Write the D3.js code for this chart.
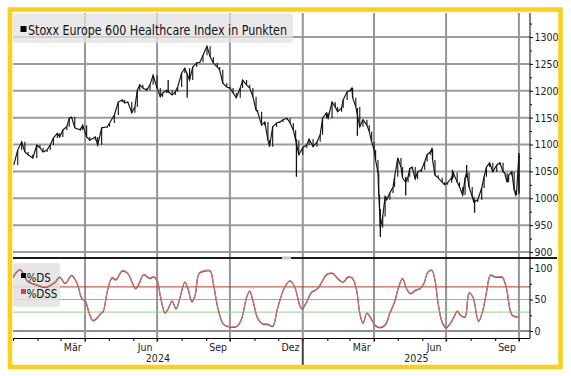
<!DOCTYPE html>
<html>
<head>
<meta charset="utf-8">
<script src="https://cdn.jsdelivr.net/npm/d3@7"></script>
<style>
  body { margin: 0; background: #fff; }
  svg { display: block; }
  text { font-family: "Liberation Sans Narrow", "DejaVu Sans Condensed", "Liberation Sans", sans-serif; }
</style>
</head>
<body>
<div class="chart"></div>
<script>
// Stoxx Europe 600 Healthcare, daily closes (approx.)
var priceDates = [
  "2024-01-02","2024-01-07","2024-01-12","2024-01-16","2024-01-20","2024-01-26","2024-01-31","2024-02-04","2024-02-08","2024-02-13",
  "2024-02-17","2024-02-21","2024-02-26","2024-02-29","2024-03-04","2024-03-09","2024-03-12","2024-03-15","2024-03-19","2024-03-26",
  "2024-03-29","2024-04-03","2024-04-07","2024-04-14","2024-04-17","2024-04-22","2024-04-29","2024-05-02","2024-05-08","2024-05-13",
  "2024-05-18","2024-05-21","2024-05-25","2024-05-30","2024-06-03","2024-06-06","2024-06-09","2024-06-13","2024-06-18","2024-06-22",
  "2024-06-26","2024-07-01","2024-07-05","2024-07-08","2024-07-13","2024-07-20","2024-07-24","2024-07-27","2024-08-01","2024-08-05",
  "2024-08-11","2024-08-15","2024-08-20","2024-08-24","2024-08-28","2024-09-02","2024-09-06","2024-09-10","2024-09-15","2024-09-18",
  "2024-09-22","2024-09-27","2024-10-01","2024-10-05","2024-10-09","2024-10-14","2024-10-17","2024-10-22","2024-10-26","2024-10-30",
  "2024-11-03","2024-11-05","2024-11-10","2024-11-14","2024-11-18","2024-11-20","2024-11-24","2024-11-29","2024-12-03","2024-12-07",
  "2024-12-12","2024-12-16","2024-12-20","2024-12-23","2024-12-27","2025-01-01","2025-01-06","2025-01-09","2025-01-14","2025-01-19",
  "2025-01-23","2025-01-26","2025-01-31","2025-02-02","2025-02-07","2025-02-11","2025-02-14","2025-02-19","2025-02-21","2025-02-26",
  "2025-03-02","2025-03-04","2025-03-05","2025-03-09","2025-03-14","2025-03-18","2025-03-23","2025-03-26","2025-03-29","2025-04-01",
  "2025-04-03","2025-04-06","2025-04-07","2025-04-08","2025-04-09","2025-04-12","2025-04-15","2025-04-17","2025-04-21","2025-04-25",
  "2025-04-27","2025-05-01","2025-05-05","2025-05-07","2025-05-11","2025-05-14","2025-05-16","2025-05-19","2025-05-23","2025-05-26",
  "2025-05-31","2025-06-04","2025-06-07","2025-06-11","2025-06-13","2025-06-14","2025-06-17","2025-06-21","2025-06-26","2025-06-29",
  "2025-07-03","2025-07-08","2025-07-10","2025-07-15","2025-07-18","2025-07-22","2025-07-25","2025-07-27","2025-07-30","2025-08-03",
  "2025-08-05","2025-08-10","2025-08-15","2025-08-18","2025-08-21","2025-08-25","2025-08-29","2025-09-03","2025-09-07","2025-09-11",
  "2025-09-13","2025-09-16","2025-09-18","2025-09-22","2025-09-25","2025-09-27","2025-09-28","2025-10-01"
];
var priceClose = [
  1062,1090,1105,1086,1081,1075,1099,1094,1086,1090,
  1099,1112,1121,1114,1127,1133,1149,1151,1131,1127,
  1136,1114,1108,1114,1099,1131,1133,1140,1155,1179,
  1183,1177,1179,1159,1170,1201,1211,1205,1201,1211,
  1229,1205,1189,1196,1201,1192,1198,1207,1233,1242,
  1220,1244,1252,1253,1266,1283,1263,1252,1244,1239,
  1214,1207,1205,1196,1187,1205,1220,1211,1205,1189,
  1164,1161,1136,1142,1108,1096,1133,1140,1142,1146,
  1149,1140,1127,1108,1081,1094,1099,1110,1096,1105,
  1118,1149,1159,1149,1179,1170,1161,1168,1183,1198,
  1201,1205,1187,1170,1133,1146,1136,1124,1105,1090,
  1071,1047,1006,978,945,966,1003,997,1010,1021,
  1040,1075,1058,1038,1030,1040,1055,1058,1036,1049,
  1053,1068,1081,1086,1092,1071,1043,1038,1030,1025,
  1029,1038,1048,1030,1021,1006,1038,1048,1021,1003,
  993,997,1019,1040,1058,1066,1049,1062,1066,1049,
  1047,1030,1043,1049,1015,1006,1012,1080
];
// long intraday wicks
var spikeDates = ["2024-07-15","2024-08-08","2024-12-24","2025-03-11","2025-04-09","2025-05-11","2025-07-09","2025-07-27","2025-08-06","2025-10-01"];
var spikeLow   = [1196, 1187, 1040, 1116, 928, 1005, 1035, 1040, 973, 1008];
var spikeHigh  = [1220, 1232, 1110, 1168, 980, 1040, 1053, 1062, 998, 1084];

// Stochastik %DS / %DSS
var stochDates = [
  "2024-01-01","2024-01-10","2024-01-20","2024-01-30","2024-02-12","2024-02-23","2024-02-29","2024-03-07","2024-03-15","2024-03-22",
  "2024-03-28","2024-04-01","2024-04-06","2024-04-11","2024-04-16","2024-04-20","2024-04-24","2024-04-29","2024-05-05","2024-05-10",
  "2024-05-18","2024-05-25","2024-06-04","2024-06-09","2024-06-14","2024-06-22","2024-06-26","2024-07-01","2024-07-05","2024-07-11",
  "2024-07-15","2024-07-20","2024-07-25","2024-07-30","2024-08-05","2024-08-09","2024-08-14","2024-08-18","2024-08-23","2024-08-30",
  "2024-09-06","2024-09-10","2024-09-16","2024-09-23","2024-10-01","2024-10-10","2024-10-16","2024-10-22","2024-10-26","2024-10-30",
  "2024-11-05","2024-11-11","2024-11-18","2024-11-24","2024-11-30","2024-12-09","2024-12-16","2024-12-22","2024-12-28","2024-12-31",
  "2025-01-06","2025-01-12","2025-01-19","2025-01-25","2025-01-31","2025-02-08","2025-02-14","2025-02-21","2025-02-27","2025-03-05",
  "2025-03-10","2025-03-14","2025-03-18","2025-03-23","2025-03-28","2025-04-02","2025-04-08","2025-04-15","2025-04-21","2025-04-27",
  "2025-05-02","2025-05-07","2025-05-12","2025-05-17","2025-05-23","2025-05-29","2025-06-03","2025-06-08","2025-06-13","2025-06-17",
  "2025-06-21","2025-06-26","2025-07-01","2025-07-06","2025-07-11","2025-07-15","2025-07-20","2025-07-25","2025-07-30","2025-08-04",
  "2025-08-09","2025-08-11","2025-08-16","2025-08-21","2025-08-26","2025-08-31","2025-09-04","2025-09-10","2025-09-15","2025-09-20",
  "2025-09-23","2025-09-28","2025-10-01"
];
var dsValues = [
  86,98,79,74,70,78,86,76,89,76,
  52,49,30,17,21,27,32,63,85,82,
  96,92,68,78,90,84,87,81,57,29,
  36,48,36,54,78,68,47,57,92,96,
  96,76,36,11,7,8,21,54,64,49,
  21,12,11,8,36,70,80,70,42,36,
  47,62,67,78,90,92,84,78,86,84,
  65,29,13,29,21,10,6,10,29,47,
  70,84,68,60,65,68,76,94,97,81,
  44,15,6,12,23,32,25,23,61,54,
  23,16,31,62,89,87,86,86,70,33,
  25,23,24
];
// the two lines lie on top of each other in the picture
var dssValues = dsValues.slice();

var priceTicks = [900, 950, 1000, 1050, 1100, 1150, 1200, 1250, 1300];
var priceMinor = [925, 975, 1025, 1075, 1125, 1175, 1225, 1275, 1325];
var stochTicks = [0, 50, 100];
var stochMinor = [25, 75];
var upperBand = 70, lowerBand = 30;

var width = 571, height = 376;
var left = 13, right = 530, plotTop = 13, split = 258, bottom = 338;

var parse = d3.utcParse("%Y-%m-%d");
var de = d3.timeFormatLocale({
  dateTime: "%A, %e. %B %Y, %X", date: "%d.%m.%Y", time: "%H:%M:%S", periods: ["AM", "PM"],
  days: ["Sonntag","Montag","Dienstag","Mittwoch","Donnerstag","Freitag","Samstag"],
  shortDays: ["So","Mo","Di","Mi","Do","Fr","Sa"],
  months: ["Januar","Februar","März","April","Mai","Juni","Juli","August","September","Oktober","November","Dezember"],
  shortMonths: ["Jan","Feb","Mär","Apr","Mai","Jun","Jul","Aug","Sep","Okt","Nov","Dez"]
});

var x = d3.scaleUtc()
    .domain([parse("2024-01-01"), parse("2025-10-15")])
    .range([left, right]);

var yP = d3.scaleLinear().domain([900, 1300]).range([252, 37]);
var yS = d3.scaleLinear().domain([0, 100]).range([331, 268]);

var svg = d3.select(".chart").append("svg")
    .attr("width", width)
    .attr("height", height);

svg.append("rect").attr("width", width).attr("height", height).attr("fill", "#fff");

var defs = svg.append("defs");
defs.append("clipPath").attr("id", "clipTop")
  .append("rect").attr("x", left).attr("y", plotTop).attr("width", right - left).attr("height", split - plotTop);
defs.append("clipPath").attr("id", "clipBot")
  .append("rect").attr("x", left).attr("y", split).attr("width", right - left).attr("height", bottom - split);

// grid
var months = d3.utcMonth.range(x.domain()[0], x.domain()[1]);
var quarters = months.filter(function(d) { return d.getUTCMonth() % 3 === 0 && d > x.domain()[0]; });

svg.append("g")
  .selectAll("line")
  .data(priceTicks)
  .enter().append("line")
    .attr("x1", left).attr("x2", right)
    .attr("y1", function(d) { return yP(d); })
    .attr("y2", function(d) { return yP(d); })
    .attr("stroke", "#9c9c9c")
    .attr("stroke-width", 2);

svg.append("line")
    .attr("x1", left).attr("x2", right)
    .attr("y1", yS(50)).attr("y2", yS(50))
    .attr("stroke", "#a8a8a8").attr("stroke-width", 1);
svg.append("line")
    .attr("x1", left).attr("x2", right)
    .attr("y1", yS(0)).attr("y2", yS(0))
    .attr("stroke", "#8e8e8e").attr("stroke-width", 2);

svg.append("g")
  .selectAll("line")
  .data(quarters)
  .enter().append("line")
    .attr("x1", function(d) { return x(d); })
    .attr("x2", function(d) { return x(d); })
    .attr("y1", plotTop).attr("y2", bottom + 4)
    .attr("stroke", "#959595")
    .attr("stroke-width", 2);

svg.append("line")
    .attr("x1", left).attr("x2", right)
    .attr("y1", yS(upperBand)).attr("y2", yS(upperBand))
    .attr("stroke", "#c0392f").attr("stroke-width", 1);
svg.append("line")
    .attr("x1", left).attr("x2", right)
    .attr("y1", yS(lowerBand)).attr("y2", yS(lowerBand))
    .attr("stroke", "#93cf8f").attr("stroke-width", 1);

// legend boxes
svg.append("rect")
    .attr("x", left).attr("y", plotTop + 0.5).attr("width", 280).attr("height", 29.5).attr("rx", 3)
    .attr("fill", "#e2e2e2").attr("fill-opacity", 0.75);
svg.append("rect")
    .attr("x", left).attr("y", 263).attr("width", 47).attr("height", 44).attr("rx", 3)
    .attr("fill", "#e2e2e2").attr("fill-opacity", 0.85);

// price bars
var price = priceDates.map(function(d, i) { return {date: parse(d), close: priceClose[i]}; });
var spikes = spikeDates.map(function(d, i) { return {date: parse(d), lo: spikeLow[i], hi: spikeHigh[i]}; });

var pg = svg.append("g").attr("clip-path", "url(#clipTop)");

pg.append("path")
    .datum(price)
    .attr("fill", "none")
    .attr("stroke", "#1a1a1a")
    .attr("stroke-width", 1.2)
    .attr("d", d3.line()
        .x(function(d) { return x(d.date); })
        .y(function(d) { return yP(d.close); }));

// each bar runs from the previous close to this close
pg.selectAll(".bar")
  .data(price.slice(1))
  .enter().append("line")
    .attr("class", "bar")
    .attr("x1", function(d) { return x(d.date); })
    .attr("x2", function(d) { return x(d.date); })
    .attr("y1", function(d, i) { return yP(price[i].close); })
    .attr("y2", function(d) { return yP(d.close); })
    .attr("stroke", "#111")
    .attr("stroke-width", 1.1);

pg.selectAll(".spike")
  .data(spikes)
  .enter().append("line")
    .attr("class", "spike")
    .attr("x1", function(d) { return x(d.date); })
    .attr("x2", function(d) { return x(d.date); })
    .attr("y1", function(d) { return yP(d.lo); })
    .attr("y2", function(d) { return yP(d.hi); })
    .attr("stroke", "#111")
    .attr("stroke-width", 1.3);

// stochastics
var sg = svg.append("g").attr("clip-path", "url(#clipBot)");
var stochLine = function(vals) {
  return d3.line()
    .curve(d3.curveCatmullRom.alpha(0.5))
    .x(function(d, i) { return x(parse(stochDates[i])); })
    .y(function(d) { return yS(d); })(vals);
};
sg.append("path")
    .attr("d", stochLine(dsValues))
    .attr("fill", "none")
    .attr("stroke", "#555")
    .attr("stroke-width", 1.3)
    .attr("transform", "translate(0,0.6)");
sg.append("path")
    .attr("d", stochLine(dssValues))
    .attr("fill", "none")
    .attr("stroke", "#e0707a")
    .attr("stroke-width", 1.1);

// panel divider
svg.append("line")
    .attr("x1", left).attr("x2", 557)
    .attr("y1", split).attr("y2", split)
    .attr("stroke", "#1a1a1a").attr("stroke-width", 2);
svg.append("rect")
    .attr("x", 282).attr("y", 256.5).attr("width", 9).attr("height", 3)
    .attr("fill", "#c8c8c8");

// right axes
var axisP = svg.append("g")
    .attr("transform", "translate(" + right + ",0)")
    .call(d3.axisRight(yP).tickValues(priceTicks).tickSize(3).tickPadding(1.5).tickFormat(d3.format("d")));
svg.append("g")
    .attr("transform", "translate(" + right + ",0)")
    .call(d3.axisRight(yP).tickValues(priceMinor).tickSize(2).tickFormat(""))
    .select(".domain").remove();
var axisS = svg.append("g")
    .attr("transform", "translate(" + right + ",0)")
    .call(d3.axisRight(yS).tickValues(stochTicks).tickSize(3).tickPadding(1.5));
svg.append("g")
    .attr("transform", "translate(" + right + ",0)")
    .call(d3.axisRight(yS).tickValues(stochMinor).tickSize(2).tickFormat(""))
    .select(".domain").remove();

axisP.select(".domain").remove();
axisS.select(".domain").remove();
svg.append("line")
    .attr("x1", right).attr("x2", right)
    .attr("y1", plotTop).attr("y2", bottom)
    .attr("stroke", "#000").attr("stroke-width", 1);

svg.selectAll(".tick text")
    .attr("font-size", 10.5)
    .attr("fill", "#222")
    .attr("font-family", null);

// time axis
var xAxis = svg.append("g")
    .attr("transform", "translate(0," + bottom + ")")
    .call(d3.axisBottom(x).tickValues(months).tickSize(3).tickFormat(""));
xAxis.select(".domain")
    .attr("d", "M" + left + ",0.5H" + right);

svg.append("line")
    .attr("x1", x(parse("2025-01-01"))).attr("x2", x(parse("2025-01-01")))
    .attr("y1", bottom).attr("y2", 365)
    .attr("stroke", "#444").attr("stroke-width", 2);

var labelled = months.filter(function(d) { return d.getUTCMonth() % 3 === 2; });
svg.append("g")
  .selectAll("text")
  .data(labelled)
  .enter().append("text")
    .attr("x", function(d) { return (x(d) + x(d3.utcMonth.offset(d, 1))) / 2; })
    .attr("y", 351)
    .attr("text-anchor", "middle")
    .attr("font-size", 10.5)
    .attr("fill", "#222")
    .text(function(d) { return de.utcFormat("%b")(d); });

var years = [2024, 2025];
svg.append("g")
  .selectAll("text")
  .data(years)
  .enter().append("text")
    .attr("x", function(d) {
      var a = d3.max([x.domain()[0], new Date(Date.UTC(d, 0, 1))]);
      var b = d3.min([x.domain()[1], new Date(Date.UTC(d + 1, 0, 1))]);
      return (x(a) + x(b)) / 2;
    })
    .attr("y", 362)
    .attr("text-anchor", "middle")
    .attr("font-size", 10.5)
    .attr("fill", "#222")
    .text(function(d) { return d; });

// legends
svg.append("rect").attr("x", 20.5).attr("y", 26).attr("width", 6).attr("height", 6).attr("fill", "#000");
svg.append("text")
    .attr("x", 28).attr("y", 35)
    .attr("font-size", 14)
    .attr("textLength", 259)
    .attr("lengthAdjust", "spacingAndGlyphs")
    .attr("fill", "#111")
    .text("Stoxx Europe 600 Healthcare Index in Punkten");

var stochKeys = [{name: "%DS", color: "#000"}, {name: "%DSS", color: "#e8384f"}];
var lg = svg.append("g")
  .selectAll("g")
  .data(stochKeys)
  .enter().append("g")
    .attr("transform", function(d, i) { return "translate(0," + i * 16 + ")"; });
lg.append("rect")
    .attr("x", 21).attr("y", 273).attr("width", 5).attr("height", 5)
    .attr("fill", function(d) { return d.color; });
lg.append("text")
    .attr("x", 26.5).attr("y", 282)
    .attr("font-size", 11.5)
    .attr("fill", "#111")
    .text(function(d) { return d.name; });

// frame
svg.append("rect")
    .attr("x", 10).attr("y", 9.5)
    .attr("width", 550.5).attr("height", 357.5)
    .attr("fill", "none")
    .attr("stroke", "#fdd017")
    .attr("stroke-width", 4.5);
</script>
</body>
</html>
